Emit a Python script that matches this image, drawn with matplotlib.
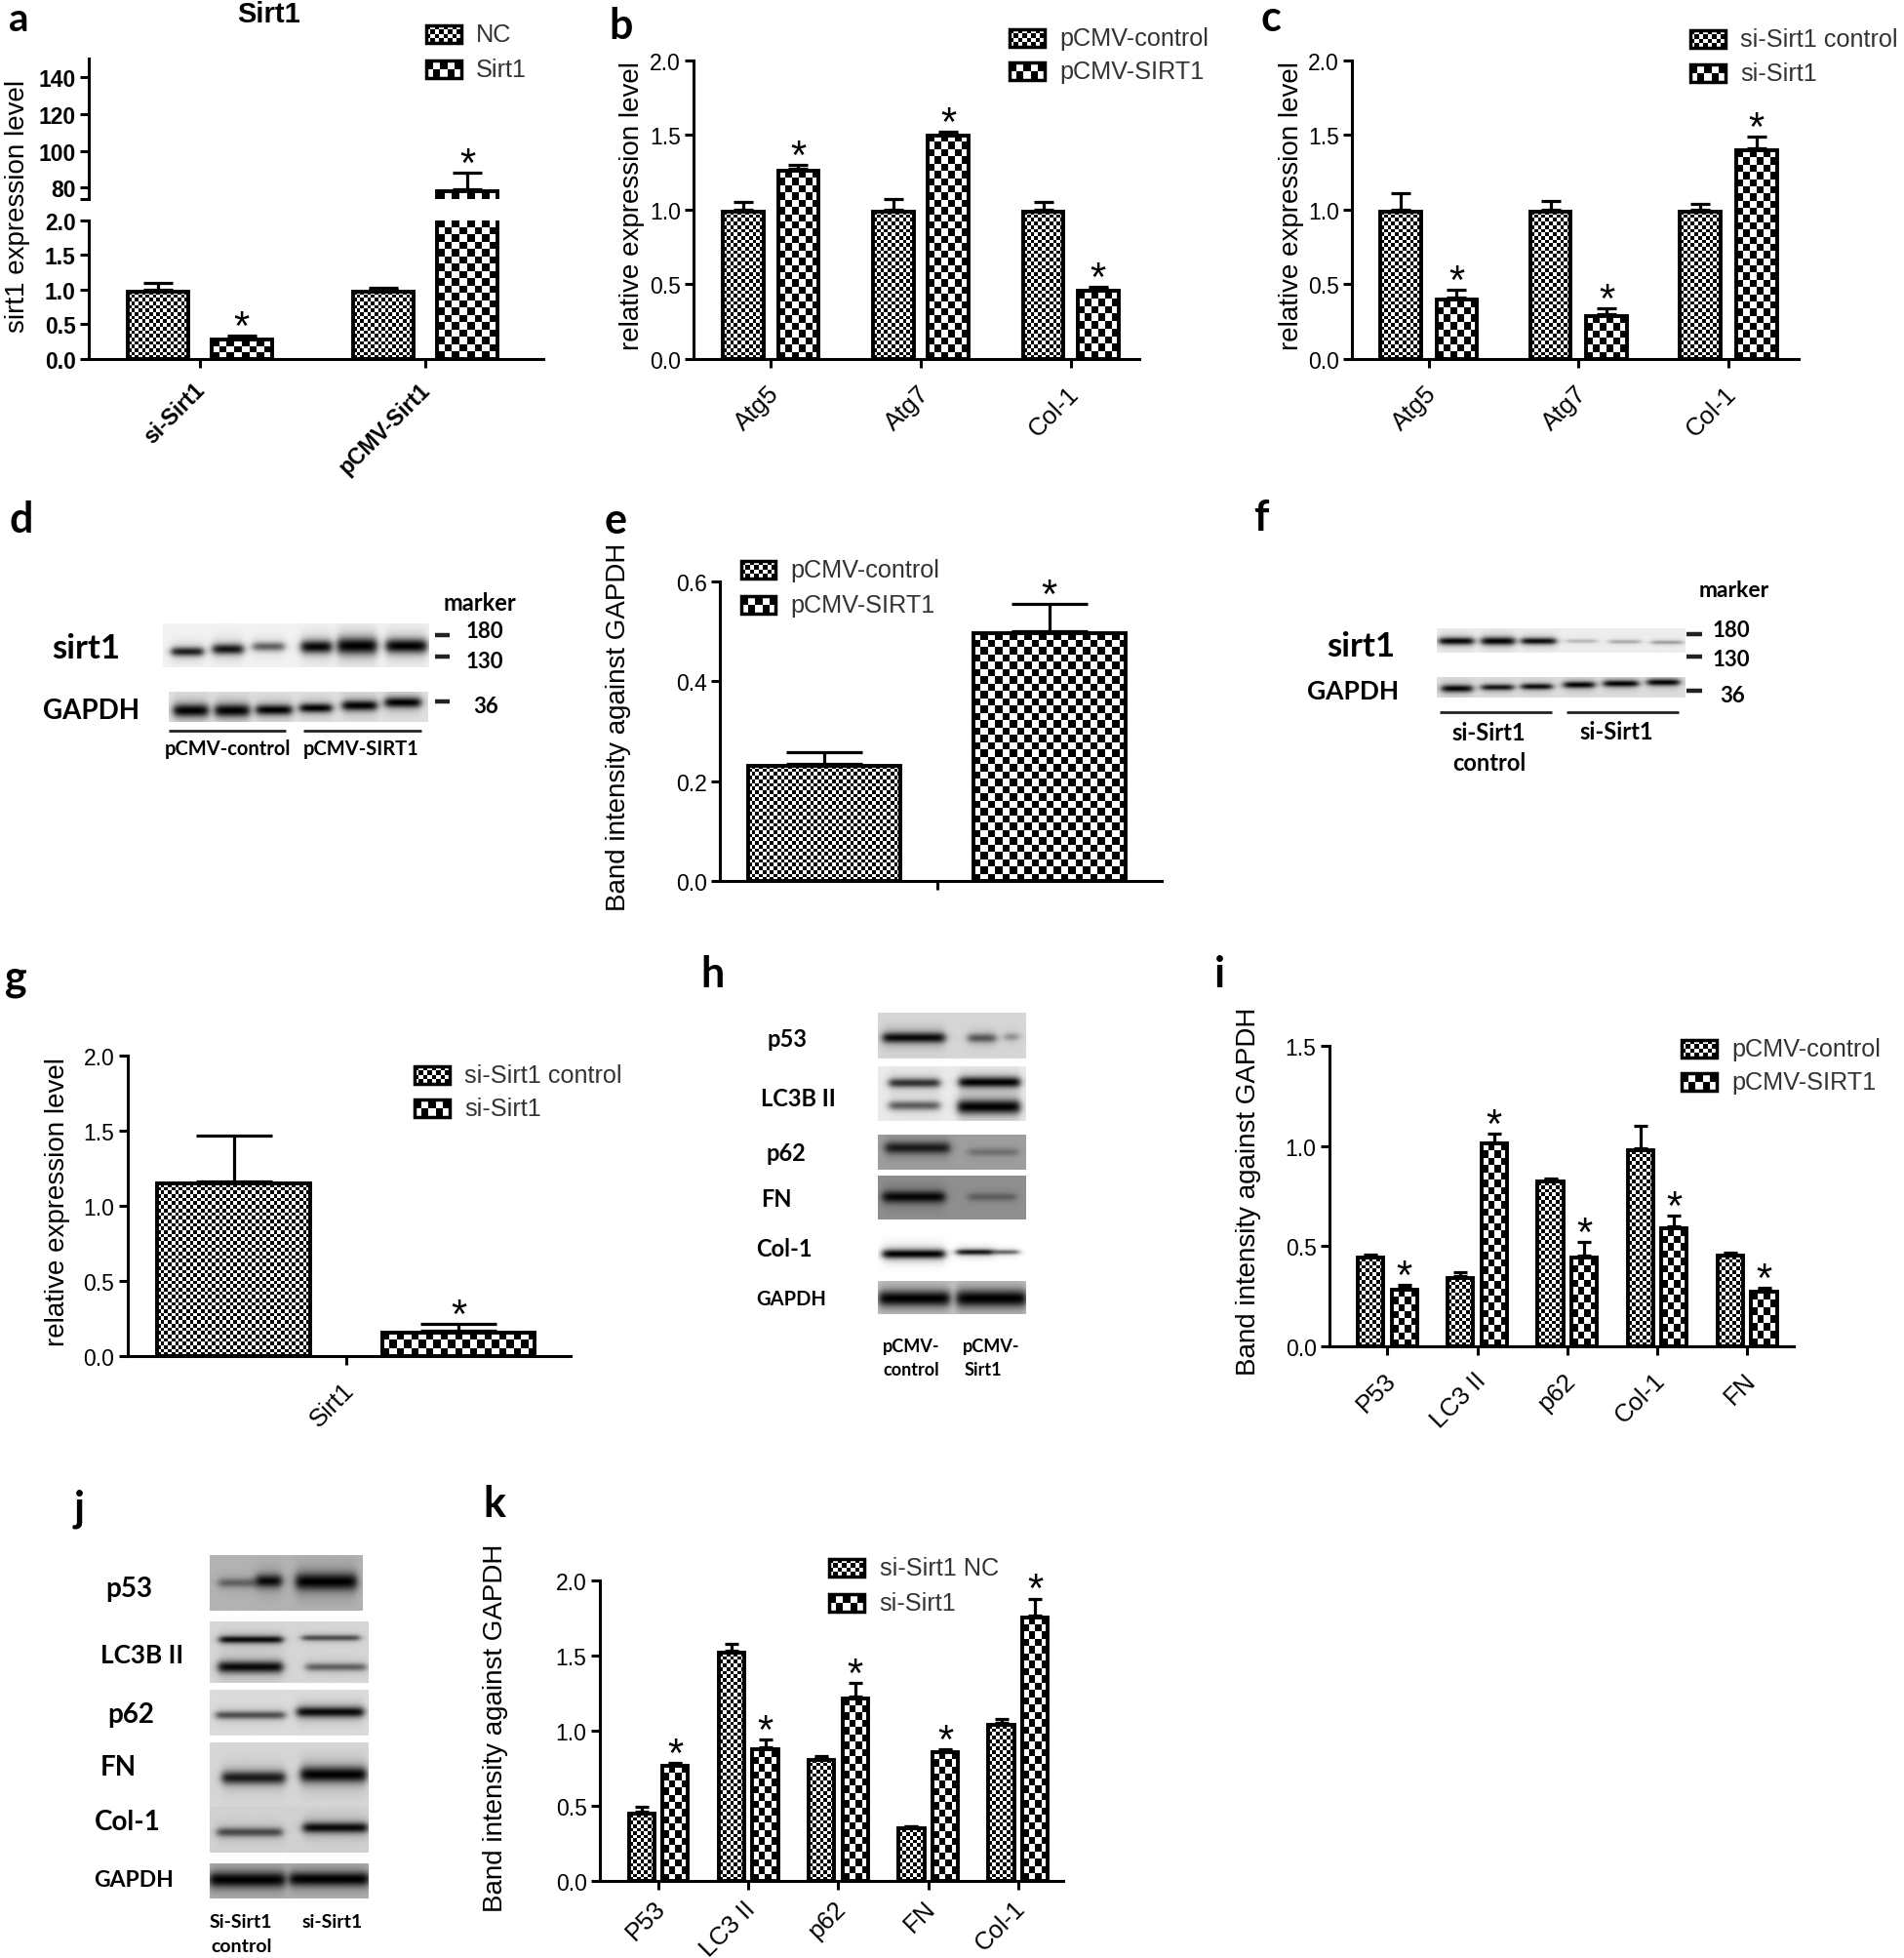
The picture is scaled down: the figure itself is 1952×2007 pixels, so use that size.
import numpy as np
import matplotlib
matplotlib.use('Agg')
import matplotlib.pyplot as plt
from matplotlib.patches import Rectangle
from matplotlib.transforms import ScaledTranslation

W, H = 1524, 1568  # layout coordinates, saved out at 1952x2008
PX = 1952 / W
FINE, COARSE = 3.7, 7.4  # checker cell size in saved pixels
EDGE = 2.8
SANS = 'Liberation Sans'
BLOT = 'Lato'

# a - Sirt1 after knockdown / overexpression
a_groups = ['si-Sirt1', 'pCMV-Sirt1']
a_nc = [1.0, 1.0]
a_sirt = [0.3, 79]
a_nc_err = [0.1, 0.02]
a_sirt_err = [0.03, 9]

# b
b_groups = ['Atg5', 'Atg7', 'Col-1']
b_ctrl = [1.0, 1.0, 1.0]
b_sirt = [1.27, 1.51, 0.47]
b_ctrl_err = [0.05, 0.07, 0.05]
b_sirt_err = [0.03, 0.01, 0.01]

# c
c_groups = ['Atg5', 'Atg7', 'Col-1']
c_ctrl = [1.0, 1.0, 1.0]
c_si = [0.41, 0.30, 1.41]
c_ctrl_err = [0.11, 0.06, 0.04]
c_si_err = [0.05, 0.04, 0.08]

# e
e_ctrl, e_sirt = [0.235], [0.50]
e_ctrl_err, e_sirt_err = [0.022], [0.055]

# g
g_groups = ['Sirt1']
g_ctrl, g_si = [1.16], [0.17]
g_ctrl_err, g_si_err = [0.31], [0.04]

# i
i_groups = ['P53', 'LC3 II', 'p62', 'Col-1', 'FN']
i_ctrl = [0.45, 0.35, 0.83, 0.99, 0.46]
i_sirt = [0.29, 1.02, 0.45, 0.60, 0.28]
i_ctrl_err = [0.005, 0.02, 0.005, 0.11, 0.005]
i_sirt_err = [0.015, 0.04, 0.07, 0.05, 0.01]

# k
k_groups = ['P53', 'LC3 II', 'p62', 'FN', 'Col-1']
k_nc = [0.46, 1.53, 0.82, 0.36, 1.05]
k_si = [0.78, 0.89, 1.23, 0.87, 1.77]
k_nc_err = [0.03, 0.05, 0.01, 0.005, 0.03]
k_si_err = [0.005, 0.05, 0.09, 0.005, 0.11]

# blots: box (x0, x1, y0, y1), background grey, bands (x0, x1, y, half height, darkness)
d_blots = [
    ((130, 343, 500, 535), 0.95, [(137, 162, 522.6, 3.5, .85), (170, 194, 520.6, 4, .9), (202, 227, 518.5, 3.5, .55),
                                  (241, 265, 518.7, 5, .97), (270, 301, 518, 6.5, 1), (309, 341, 518, 5.5, 1)]),
    ((135, 342, 555, 579), 0.88, [(139, 166, 570, 5, 1), (172, 199, 570, 5, 1), (205, 233, 569.5, 4, 1),
                                  (240, 265, 568, 3.5, 1), (274, 301, 566, 4, 1), (308, 336, 563.5, 4, 1)]),
]
f_blots = [
    ((1150, 1349, 504, 523), 0.93, [(1152, 1179, 514, 2.8, .98), (1186, 1212, 514, 3, 1), (1218, 1245, 514, 2.5, .95),
                                    (1254, 1278, 514, 1.5, .2), (1288, 1313, 514.5, 1.5, .25), (1322, 1347, 515, 1.5, .3)]),
    ((1150, 1349, 543, 559), 0.87, [(1154, 1178, 552, 2.8, .98), (1186, 1211, 551, 2.3, .9), (1218, 1242, 550.4, 2.3, .95),
                                    (1252, 1276, 549, 2.5, 1), (1284, 1311, 548, 2.5, 1), (1319, 1344, 547, 2.5, 1)]),
]
h_blots = [
    ((703, 821, 812, 848), 0.84, [(707, 756, 831.7, 4, .95), (775, 797, 832, 3.5, .55), (804, 815, 831, 3, .3)]),
    ((703, 821, 855, 898), 0.92, [(712, 752, 868, 3.5, .75), (712, 752, 886, 3.5, .55),
                                  (768, 816, 867.4, 4, 1), (767, 816, 887, 5.5, 1)]),
    ((703, 821, 909, 937), 0.62, [(709, 760, 919.5, 4.5, .8), (775, 815, 923, 3, .25)]),
    ((703, 821, 942, 977), 0.56, [(707, 756, 959, 4.5, .95), (775, 813, 959, 3, .3)]),
    ((703, 821, 984, 1020), 1.0, [(707, 756, 1005, 3.5, 1), (766, 795, 1003.5, 2.2, .9), (795, 815, 1003.5, 1.8, .55)]),
    ((703, 821, 1027, 1053), 0.78, [(704, 760, 1040.8, 6, 1), (766, 821, 1040.8, 6.5, 1)]),
]
j_blots = [
    ((168, 290, 1246, 1290), 0.70, [(175, 205, 1268, 3.5, .4), (205, 225, 1266.5, 5, .95), (237, 285, 1267, 6.5, 1)]),
    ((168, 295, 1299, 1348), 0.84, [(176, 226, 1313.4, 2.8, .95), (175, 226, 1335.5, 4.5, .95),
                                    (242, 288, 1312, 2.2, .6), (245, 293, 1335.5, 3, .5)]),
    ((168, 295, 1354, 1390), 0.86, [(173, 228, 1374, 3, .6), (238, 291, 1371.5, 4, .95)]),
    ((168, 295, 1396, 1447), 0.84, [(178, 228, 1424, 5, .85), (241, 293, 1421.5, 6, 1)]),
    ((168, 295, 1448, 1484), 0.82, [(174, 226, 1468, 3.5, .6), (243, 294, 1464.4, 4, .95)]),
    ((168, 295, 1492, 1520), 0.70, [(168, 228, 1505, 6, 1), (232, 295, 1504.5, 5.5, 1)]),
]


def checker(ax, x0, x1, y0, y1, cell):
    # black and white squares of a fixed pixel size, stretched to the bar's box
    a = ax.transData.transform((x0, y0))
    b = ax.transData.transform((x1, y1))
    nx = max(1, int(round(abs(b[0] - a[0]) / cell)))
    ny = max(1, int(round(abs(b[1] - a[1]) / cell)))
    yy, xx = np.indices((ny, nx))
    ax.imshow((xx + yy) % 2, cmap='gray', extent=(x0, x1, y0, y1), aspect='auto',
              interpolation='nearest', origin='lower', zorder=1)


def bars(box, groups, first, second, err1, err2, centre0, step, width, gap, ylim, yticks,
         ylabels=None, hide_bottom=False, bold=False, pad=10, left=3, xsize=18.5):
    x0, y0, x1, y1 = box
    ax = fig.add_axes([x0 / W, 1 - y1 / H, (x1 - x0) / W, (y1 - y0) / H])
    ax.patch.set_alpha(0)
    ax.set_xlim(x0, x1)
    ax.set_ylim(*ylim)
    ax.set_autoscale_on(False)
    centres = [centre0 + i * step for i in range(len(first))]
    cap = width / 4 * PX * 72 / 100
    # the outer edge of the bar sits on the value, so pull the stroke centre down by half its width
    half_edge = (EDGE * 100 / 72 / 2) * (ylim[1] - ylim[0]) / ((y1 - y0) * PX)
    for series, errs, off, cell in ((first, err1, -gap / 2, FINE), (second, err2, gap / 2, COARSE)):
        xs = [c + off for c in centres]
        heights = [v - half_edge for v in series]
        for x, v in zip(xs, heights):
            top, bottom = min(v, ylim[1]), max(0, ylim[0])
            if top > bottom:
                checker(ax, x - width / 2, x + width / 2, bottom, top, cell)
        ax.bar(xs, heights, width=width, facecolor='none', edgecolor='black', linewidth=EDGE, zorder=3)
        ax.errorbar(xs, series, yerr=[np.zeros(len(errs)), errs], fmt='none', ecolor='black',
                    elinewidth=2.3, capsize=cap, capthick=2.3, zorder=2)
        if cell == COARSE:
            for x, v, e in zip(xs, series, errs):
                if ylim[0] <= v + e <= ylim[1]:
                    ax.annotate('*', (x, v + e), xytext=(0, -2), textcoords='offset points', ha='center',
                                va='baseline', fontsize=30, family=SANS, annotation_clip=False)
    ax.spines[['top', 'right']].set_visible(False)
    ax.spines[['left', 'bottom']].set_linewidth(2.2)
    ax.set_yticks(yticks)
    ax.set_yticklabels(ylabels if ylabels else [f'{t:.1f}' for t in yticks], fontsize=16.5, family=SANS,
                       fontweight='bold' if bold else 'normal')
    ax.tick_params(axis='y', width=2.2, length=6.5, pad=3)
    if hide_bottom:
        ax.spines['bottom'].set_visible(False)
        ax.set_xticks([])
    elif groups is None:
        ax.set_xticks(centres)
        ax.set_xticklabels([])
        ax.tick_params(axis='x', width=2.2, length=6.5)
    else:
        ax.set_xticks(centres)
        ax.set_xticklabels(groups, rotation=45, ha='right', va='top', rotation_mode='anchor',
                           fontsize=xsize, family=SANS, fontweight='bold' if bold else 'normal')
        ax.tick_params(axis='x', width=2.2, length=6.5, pad=pad)
        shift = ScaledTranslation(-left * PX / 100, 0, fig.dpi_scale_trans)
        for tick_label in ax.get_xticklabels():
            tick_label.set_transform(tick_label.get_transform() + shift)
    return ax


def legend(x, ys, labels):
    for i, (y, label_) in enumerate(zip(ys, labels)):
        xa, xb, ya, yb = x, x + 28, y - 7, y + 7
        nx, ny = (8, 4) if i == 0 else (5, 2)
        yy, xx = np.indices((ny, nx))
        page.imshow((xx + yy) % 2, cmap='gray', extent=(xa, xb, yb, ya), aspect='auto', interpolation='nearest')
        page.add_patch(Rectangle((xa, ya), 28, 14, fc='none', ec='black', lw=2.5))
        page.text(x + 40, y, label_, fontsize=18.2, family=SANS, va='center', color='#333333')


def blot(spec):
    (x0, x1, y0, y1), bg, bands_ = spec
    X = np.linspace(x0, x1, int((x1 - x0) * 2))
    Y = np.linspace(y0, y1, int((y1 - y0) * 2))
    img = np.full((len(Y), len(X)), float(bg))
    for bx0, bx1, by, half, dark in bands_:
        px = 0.5 * (np.tanh((X - bx0) / 3.5) - np.tanh((X - bx1) / 3.5))
        core = np.exp(-((Y - by) / half) ** 2)
        halo = np.exp(-((Y - by) / (half * 2.2)) ** 2)
        img *= 1 - dark * np.outer(core, px)
        img *= 1 - 0.22 * dark * np.outer(halo, px)
    page.imshow(img, cmap='gray', vmin=0, vmax=1, extent=(x0, x1, y1, y0), aspect='auto', interpolation='bilinear')


def label(x, y, s, size, weight='bold', family=BLOT, **kw):
    page.text(x, y, s, fontsize=size, fontweight=weight, family=family, ha='center', va='center', **kw)


def rule(x0, x1, y, lw=2.0):
    page.plot([x0, x1], [y, y], color='#222222', lw=lw, solid_capstyle='butt')


fig = plt.figure(figsize=(19.52, 20.08), dpi=100)

# full-page axes for blots, legends and free text
page = fig.add_axes([0, 0, 1, 1], zorder=5)
page.set_xlim(0, W)
page.set_ylim(H, 0)
page.set_autoscale_on(False)
page.axis('off')

# panel a has a broken y axis
bars((71, 177, 435, 288), a_groups, a_nc, a_sirt, a_nc_err, a_sirt_err, 160, 180.5, 48, 67,
     (0, 2), [0, 0.5, 1, 1.5, 2], bold=True, pad=8, left=5, xsize=16.5)
bars((71, 48, 435, 160), None, a_nc, a_sirt, a_nc_err, a_sirt_err, 160, 180.5, 48, 67,
     (74, 149.5), [74, 80, 100, 120, 140], ['', '80', '100', '120', '140'], hide_bottom=True, bold=True)
bars((555, 49, 912, 288), b_groups, b_ctrl, b_sirt, b_ctrl_err, b_sirt_err, 617, 120, 32.5, 44,
     (0, 2), [0, 0.5, 1, 1.5, 2])
bars((1082, 49, 1440, 288), c_groups, c_ctrl, c_si, c_ctrl_err, c_si_err, 1143.5, 120, 32.5, 45,
     (0, 2), [0, 0.5, 1, 1.5, 2])
bars((576, 466, 930, 706), None, e_ctrl, e_sirt, e_ctrl_err, e_sirt_err, 750, 0, 122, 180,
     (0, 0.6), [0, 0.2, 0.4, 0.6])
bars((102, 846, 457, 1086), g_groups, g_ctrl, g_si, g_ctrl_err, g_si_err, 277, 0, 122, 180,
     (0, 2), [0, 0.5, 1, 1.5, 2])
bars((1064, 838, 1436, 1078), i_groups, i_ctrl, i_sirt, i_ctrl_err, i_sirt_err, 1110.5, 72, 20.5, 27,
     (0, 1.5), [0, 0.5, 1, 1.5])
bars((480, 1266, 851, 1506), k_groups, k_nc, k_si, k_nc_err, k_si_err, 527, 72, 20.5, 27,
     (0, 2), [0, 0.5, 1, 1.5, 2], pad=5, left=4)

legend(341, [28, 56], ['NC', 'Sirt1'])
legend(808, [31, 58], ['pCMV-control', 'pCMV-SIRT1'])
legend(1353, [32, 59], ['si-Sirt1 control', 'si-Sirt1'])
legend(593, [457, 485], ['pCMV-control', 'pCMV-SIRT1'])
legend(332, [861, 888], ['si-Sirt1 control', 'si-Sirt1'])
legend(1346, [840, 867], ['pCMV-control', 'pCMV-SIRT1'])
legend(664, [1256, 1284], ['si-Sirt1 NC', 'si-Sirt1'])

# y axis titles
for x, y, s in [(14, 165, 'sirt1 expression level'), (506, 165, 'relative expression level'),
                (1034, 165, 'relative expression level'), (495, 582, 'Band intensity against GAPDH'),
                (46, 962, 'relative expression level'), (999, 954, 'Band intensity against GAPDH'),
                (397, 1383, 'Band intensity against GAPDH')]:
    page.text(x, y, s, fontsize=20, family=SANS, rotation=90, ha='center', va='center')
page.text(215, 12, 'Sirt1', fontsize=21, fontweight='bold', family=SANS, ha='center', va='center')

# panel letters
label(15, 16, 'a', 29)
for x, y, s in [(497, 21, 'b'), (1017, 15, 'c'), (17, 416, 'd'), (493, 417, 'e'),
                (1009, 415, 'f'), (13, 783, 'g'), (570, 780, 'h'), (976, 780, 'i'), (63, 1208, 'j'), (396, 1204, 'k')]:
    label(x, y, s, 31)

for spec in d_blots + f_blots + h_blots + j_blots:
    blot(spec)

# d
label(69, 519, 'sirt1', 25)
label(73, 569, 'GAPDH', 20)
rule(135, 229, 585.6)
rule(243, 337, 585.6)
label(182, 600, 'pCMV-control', 14.5)
label(289, 600, 'pCMV-SIRT1', 14.5)
label(384, 483, 'marker', 17)
for y, s in [(506, '180'), (530, '130')]:
    label(388, y, s, 16)
label(389, 566, '36', 16)
for y in (509.4, 526.6, 562):
    rule(348, 360, y, lw=3.2)

# f
label(1089, 518, 'sirt1', 25)
label(1083, 554, 'GAPDH', 19)
rule(1152, 1242, 570.5)
rule(1254, 1344, 570.5)
label(1192, 587, 'si-Sirt1', 17)
label(1192, 611, 'control', 17)
label(1294, 586, 'si-Sirt1', 17)
label(1388, 473, 'marker', 16.5)
for y, s in [(505, '180'), (528, '130')]:
    label(1386, y, s, 16)
label(1387, 557, '36', 16)
for y in (508, 526, 553.5):
    rule(1350, 1362, y, lw=3.2)

# h
for x, y, s, size in [(630, 832, 'p53', 17), (639, 880, 'LC3B II', 17), (629, 923, 'p62', 17), (621, 960, 'FN', 17),
                      (628, 1000, 'Col-1', 17), (633, 1040, 'GAPDH', 14.5)]:
    label(x, y, s, size)
for x, y, s in [(729, 1078, 'pCMV-'), (729, 1097, 'control'), (793, 1078, 'pCMV-'), (787, 1097, 'Sirt1')]:
    label(x, y, s, 13)

# j
for x, y, s, size in [(103, 1272, 'p53', 20), (114, 1325, 'LC3B II', 18.8), (105, 1373, 'p62', 20), (95, 1415, 'FN', 20),
                      (102, 1459, 'Col-1', 20), (107, 1505, 'GAPDH', 16.5)]:
    label(x, y, s, size)
for x, y, s in [(193, 1539, 'Si-Sirt1'), (193, 1558, 'control'), (266, 1539, 'si-Sirt1')]:
    label(x, y, s, 14)

fig.savefig('out.png', dpi=100, facecolor='white')
